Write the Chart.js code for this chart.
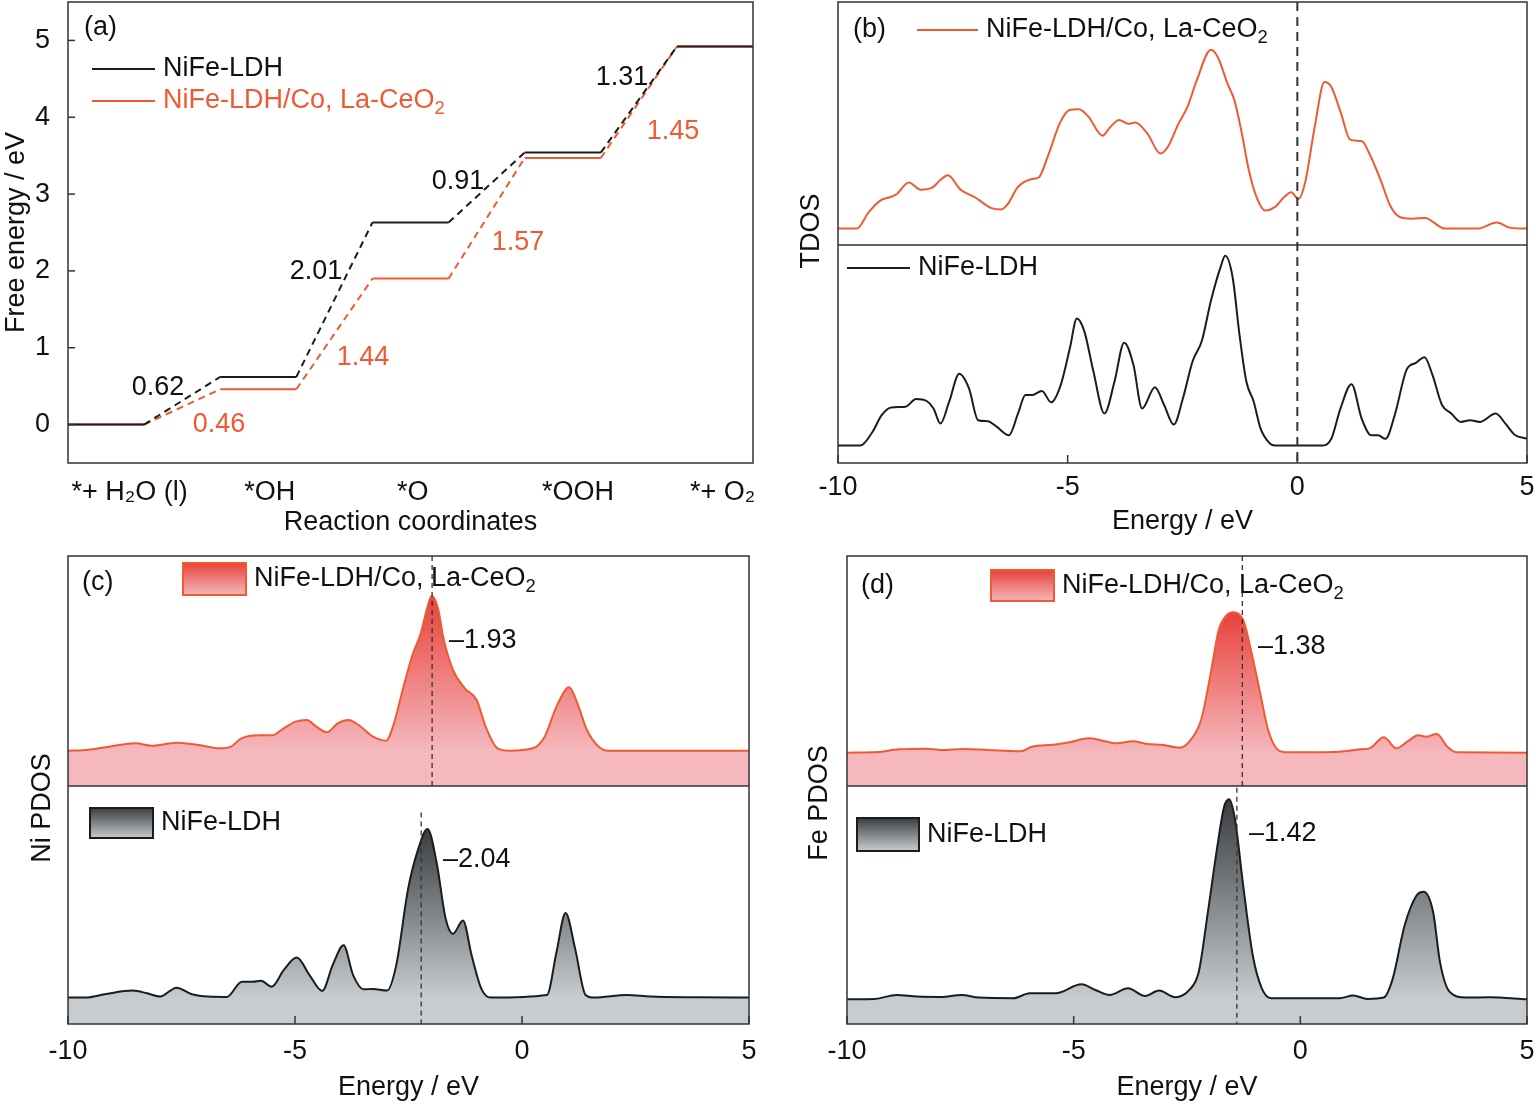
<!DOCTYPE html>
<html lang="en">
<head>
<meta charset="UTF-8">
<title>Free energy and DOS</title>
<script src="https://cdn.jsdelivr.net/npm/chart.js@4.4.0/dist/chart.umd.min.js"></script>
<style>
  body { margin: 0; background: #fff; }
  .wrap { position: relative; width: 1536px; height: 1107px; }
  canvas { position: absolute; }
</style>
</head>
<body>
<div class="wrap">
  <canvas id="chartA" width="775" height="545" style="left:0;top:0"></canvas>
  <canvas id="chartB" width="761" height="545" style="left:775px;top:0"></canvas>
  <canvas id="chartC" width="775" height="562" style="left:0;top:545px"></canvas>
  <canvas id="chartD" width="761" height="562" style="left:775px;top:545px"></canvas>
</div>
<script>
const RED = '#ef5a32';
const BLACK = '#1c1c1c';
const FONT = '"Liberation Sans", Arial, sans-serif';
const TEXT_SIZE = 27;
Chart.defaults.font.family = FONT;
Chart.defaults.font.size = TEXT_SIZE;
Chart.defaults.color = '#111';

// ---- (a) free energy steps ----
const steps = ['*+ H₂O (l)', '*OH', '*O', '*OOH', '*+ O₂'];
const stepLabelAt = [0.81, 2.65, 4.53, 6.7, 8.6];
const energyTicks = [0, 1, 2, 3, 4, 5];
const ldhLevels = [0, 0.62, 2.63, 3.54, 4.92];
const coLevels = [0, 0.46, 1.90, 3.47, 4.92];
const ldhGaps = ['0.62', '2.01', '0.91', '1.31'];
const coGaps = ['0.46', '1.44', '1.57', '1.45'];

// ---- (b) TDOS ----
const tdosCoE = [-10.00,-9.59,-9.33,-9.08,-8.87,-8.72,-8.46,-8.20,-7.94,-7.79,-7.61,-7.33,-7.02,-6.66,-6.45,-6.30,-6.09,-5.79,-5.63,-5.43,-5.17,-4.96,-4.76,-4.55,-4.24,-4.09,-3.88,-3.68,-3.53,-3.27,-2.98,-2.81,-2.60,-2.39,-2.19,-1.88,-1.73,-1.52,-1.37,-1.21,-1.06,-0.90,-0.70,-0.49,-0.29,-0.13,0.02,0.17,0.38,0.59,0.74,0.95,1.15,1.41,1.56,1.82,2.02,2.23,2.49,2.80,2.95,3.21,3.93,4.34,4.65,5.00];
const tdosCo = [0,0,0.50,0.85,0.95,1.05,1.40,1.18,1.25,1.45,1.62,1.18,0.95,0.62,0.58,0.75,1.25,1.50,1.55,2.20,3.20,3.60,3.62,3.40,2.82,3.05,3.30,3.18,3.22,2.90,2.28,2.50,3.15,3.70,4.50,5.43,5.20,4.40,3.90,2.90,1.80,1.00,0.55,0.65,0.95,1.10,0.90,1.40,3.10,4.45,4.30,3.50,2.70,2.65,2.30,1.45,0.70,0.35,0.30,0.32,0.20,0,0,0.18,0.02,0];
const tdosLdhE = [-10.00,-9.51,-9.25,-9.05,-8.84,-8.53,-8.30,-8.07,-7.92,-7.77,-7.58,-7.36,-7.15,-6.95,-6.74,-6.54,-6.28,-6.08,-5.92,-5.77,-5.56,-5.36,-5.15,-4.95,-4.80,-4.64,-4.44,-4.20,-3.98,-3.77,-3.57,-3.38,-3.10,-2.90,-2.69,-2.49,-2.28,-2.08,-1.88,-1.67,-1.57,-1.41,-1.26,-1.11,-0.95,-0.80,-0.59,-0.49,0.53,0.74,0.94,1.18,1.40,1.61,1.76,1.92,2.12,2.38,2.58,2.77,2.94,3.15,3.35,3.56,3.76,3.97,4.32,4.53,4.73,5.00];
const tdosLdh = [0,0,0.40,0.90,1.13,1.15,1.38,1.32,1.10,0.65,1.30,2.13,1.70,0.75,0.72,0.55,0.30,0.95,1.50,1.50,1.62,1.28,1.80,2.90,3.77,3.40,2.20,0.95,1.90,3.05,2.40,1.10,1.73,1.20,0.62,1.40,2.50,3.10,4.30,5.30,5.63,5.00,3.30,1.90,1.30,0.50,0.05,0,0,0.20,1.10,1.82,0.80,0.30,0.30,0.20,0.90,2.25,2.45,2.62,2.10,1.20,0.95,0.70,0.75,0.70,0.95,0.65,0.32,0.20];
const fermiLevel = 0;

// ---- (c) Ni PDOS ----
const niCoE = [-10.00,-9.61,-9.09,-8.52,-8.16,-7.59,-7.12,-6.65,-6.41,-6.19,-5.77,-5.51,-5.25,-4.99,-4.74,-4.53,-4.30,-4.06,-3.82,-3.60,-3.28,-2.99,-2.82,-2.61,-2.40,-2.23,-2.09,-1.99,-1.85,-1.73,-1.52,-1.26,-1.00,-0.80,-0.54,-0.28,0.24,0.50,0.76,1.04,1.22,1.43,1.69,1.90,5.00];
const niCo = [0,0.02,0.12,0.22,0.15,0.24,0.17,0.07,0.12,0.36,0.46,0.46,0.67,0.87,0.92,0.72,0.55,0.82,0.92,0.77,0.42,0.30,0.82,1.92,2.92,3.52,4.27,4.64,4.27,3.37,2.42,1.87,1.52,0.72,0.07,0,0.07,0.42,1.32,1.90,1.42,0.62,0.12,0,0];
const niLdhE = [-10.00,-9.61,-9.19,-8.57,-8.26,-7.97,-7.61,-7.27,-6.91,-6.50,-6.17,-5.93,-5.75,-5.51,-5.25,-4.96,-4.68,-4.40,-4.17,-3.93,-3.72,-3.49,-3.29,-2.97,-2.77,-2.51,-2.30,-2.08,-1.88,-1.68,-1.52,-1.30,-1.11,-0.90,-0.69,0.55,0.76,0.96,1.17,1.40,1.59,2.31,2.83,3.87,5.00];
const niLdh = [0,0,0.10,0.21,0.13,0.03,0.30,0.10,0.03,0.02,0.48,0.48,0.51,0.33,0.83,1.21,0.68,0.20,0.98,1.58,0.68,0.25,0.26,0.21,0.98,3.28,4.43,5.10,4.08,2.38,1.93,2.33,1.28,0.28,0,0.08,1.38,2.56,1.48,0.08,0,0.08,0.03,0.01,0];
const niCentre = [-1.98, -2.22];
const niCentreText = ['–1.93', '–2.04'];

// ---- (d) Fe PDOS ----
const feCoE = [-10.00,-9.33,-8.86,-8.24,-7.93,-7.41,-6.90,-6.17,-5.92,-5.45,-5.09,-4.67,-4.36,-4.05,-3.69,-3.38,-3.02,-2.66,-2.45,-2.19,-1.99,-1.80,-1.62,-1.50,-1.26,-1.09,-0.90,-0.71,-0.49,-0.28,0.86,1.32,1.53,1.84,2.12,2.36,2.60,2.77,3.01,3.24,3.44,5.00];
const feCo = [0,0.02,0.10,0.12,0.08,0.11,0.08,0.04,0.18,0.24,0.31,0.43,0.36,0.28,0.34,0.26,0.23,0.15,0.33,0.98,2.28,3.68,4.13,4.21,3.98,3.08,1.88,0.68,0.08,0.01,0.03,0.10,0.13,0.46,0.13,0.33,0.52,0.48,0.56,0.18,0.01,0];
const feLdhE = [-10.00,-9.38,-8.91,-8.45,-7.93,-7.47,-7.10,-6.33,-5.97,-5.40,-4.83,-4.52,-4.21,-3.80,-3.43,-3.12,-2.76,-2.45,-2.24,-2.04,-1.83,-1.68,-1.57,-1.44,-1.26,-1.05,-0.85,-0.64,0.86,1.17,1.48,1.84,2.04,2.30,2.56,2.72,2.93,3.08,3.29,3.65,4.16,5.00];
const feLdh = [0,0.01,0.13,0.08,0.07,0.13,0.05,0.03,0.18,0.18,0.45,0.28,0.13,0.33,0.10,0.26,0.06,0.28,0.83,2.63,4.63,5.83,6.05,5.43,3.43,1.33,0.33,0.03,0.03,0.11,0.01,0.05,0.63,2.23,3.13,3.25,2.63,1.13,0.23,0.05,0.06,0];
const feCentre = [-1.28, -1.40];
const feCentreText = ['–1.38', '–1.42'];

const zip = (xs, ys) => xs.map((x, i) => ({ x: x, y: ys[i] }));

// flat level segments with gaps, and the dashed links between them
function levelSegments(levels) {
  const pts = [];
  levels.forEach((e, i) => pts.push({ x: 2 * i, y: e }, { x: 2 * i + 1, y: e }, { x: 2 * i + 1.5, y: null }));
  return pts;
}
function levelLinks(levels) {
  const pts = [];
  for (let i = 0; i < levels.length - 1; i++) {
    pts.push({ x: 2 * i + 1, y: levels[i] }, { x: 2 * i + 2, y: levels[i + 1] }, { x: 2 * i + 2, y: null });
  }
  return pts;
}

// pin axis box sizes so the plot areas line up with the figure
function fixBox(s, size) {
  if (s.isHorizontal()) s.height = size; else s.width = size;
  s.paddingLeft = s.paddingRight = s.paddingTop = s.paddingBottom = 0;
}

// text with unicode subscript digits drawn as real small subscripts
const SUBS = '₀₁₂₃₄₅₆₇₈₉';
function richParts(str) {
  const parts = [];
  for (const ch of str) {
    const k = SUBS.indexOf(ch);
    const sub = k >= 0;
    const t = sub ? String(k) : ch;
    if (parts.length && parts[parts.length - 1].sub === sub) parts[parts.length - 1].t += t;
    else parts.push({ t: t, sub: sub });
  }
  return parts;
}
function drawRich(ctx, str, x, y, color, size, align) {
  const parts = richParts(str);
  ctx.textBaseline = 'middle';
  ctx.textAlign = 'left';
  let w = 0;
  parts.forEach(p => { ctx.font = (p.sub ? size * 0.68 : size) + 'px ' + FONT; w += ctx.measureText(p.t).width; });
  let cx = align === 'center' ? x - w / 2 : x;
  ctx.fillStyle = color;
  parts.forEach(p => {
    ctx.font = (p.sub ? size * 0.68 : size) + 'px ' + FONT;
    ctx.fillText(p.t, cx, p.sub ? y + size * 0.3 : y);
    cx += ctx.measureText(p.t).width;
  });
}

function gradFill(dark, light) {
  return (c) => {
    const chart = c.chart;
    const ds = chart.data.datasets[c.datasetIndex];
    if (!chart.chartArea || !ds) return light;
    const s = chart.scales[ds.yAxisID];
    const peak = Math.max(...ds.data.map(p => p.y));
    const g = chart.ctx.createLinearGradient(0, s.getPixelForValue(peak), 0, s.getPixelForValue(0));
    g.addColorStop(0, dark);
    g.addColorStop(1, light);
    return g;
  };
}

// frame, divider, inward ticks, guide lines, legends and labels
const panelPlugin = {
  id: 'panel',
  afterDatasetsDraw(chart, args, opts) {
    const ctx = chart.ctx, a = chart.chartArea;
    ctx.save();
    ctx.strokeStyle = '#333';
    ctx.lineWidth = 1.5;
    ctx.setLineDash([]);
    ctx.strokeRect(a.left, a.top, a.right - a.left, a.bottom - a.top);
    if (opts.divider) {
      const y = chart.scales[opts.divider].bottom;
      ctx.beginPath(); ctx.moveTo(a.left, y); ctx.lineTo(a.right, y); ctx.stroke();
    }
    (opts.ticks || []).forEach(id => {
      const s = chart.scales[id];
      s.ticks.forEach(t => {
        const p = s.getPixelForValue(t.value);
        ctx.beginPath();
        if (s.isHorizontal()) { ctx.moveTo(p, a.bottom); ctx.lineTo(p, a.bottom - 8); }
        else { ctx.moveTo(a.left, p); ctx.lineTo(a.left + 7, p); }
        ctx.stroke();
      });
    });
    (opts.vlines || []).forEach(v => {
      const px = chart.scales.x.getPixelForValue(v.x);
      let y0 = a.top, y1 = a.bottom;
      if (v.scale) { const s = chart.scales[v.scale]; y0 = s.getPixelForValue(v.from); y1 = s.getPixelForValue(v.to); }
      ctx.strokeStyle = '#333';
      ctx.lineWidth = v.width;
      ctx.setLineDash(v.dash);
      ctx.beginPath(); ctx.moveTo(px, y0); ctx.lineTo(px, y1); ctx.stroke();
    });
    ctx.setLineDash([]);
    (opts.legend || []).forEach(l => {
      const ds = chart.data.datasets[l.ds];
      if (l.box) {
        const g = ctx.createLinearGradient(0, l.y, 0, l.y + l.h);
        g.addColorStop(0, l.box[0]); g.addColorStop(1, l.box[1]);
        ctx.fillStyle = g;
        ctx.fillRect(l.x, l.y, l.w, l.h);
        ctx.strokeStyle = ds.borderColor; ctx.lineWidth = 2;
        ctx.strokeRect(l.x, l.y, l.w, l.h);
        drawRich(ctx, ds.label, l.x + l.w + 8, l.y + l.h / 2, '#111', TEXT_SIZE);
      } else {
        ctx.strokeStyle = ds.borderColor; ctx.lineWidth = 2;
        ctx.beginPath(); ctx.moveTo(l.x, l.y); ctx.lineTo(l.x + l.w, l.y); ctx.stroke();
        drawRich(ctx, ds.label, l.x + l.w + 8, l.y, l.color || '#111', TEXT_SIZE);
      }
    });
    (opts.texts || []).forEach(t => {
      if (t.rotate) {
        ctx.save(); ctx.translate(t.x, t.y); ctx.rotate(-Math.PI / 2);
        drawRich(ctx, t.text, 0, 0, t.color || '#111', TEXT_SIZE, 'center');
        ctx.restore();
      } else {
        drawRich(ctx, t.text, t.x, t.y, t.color || '#111', TEXT_SIZE, t.align);
      }
    });
    ctx.restore();
  }
};

const common = {
  responsive: false,
  animation: false,
  events: [],
  elements: { point: { radius: 0 }, line: { borderWidth: 2 } }
};

function energyAxis(h, tickPad, titlePad) {
  return {
    type: 'linear', min: -10, max: 5,
    ticks: { stepSize: 5, padding: tickPad, color: '#111' },
    grid: { display: false }, border: { display: false },
    title: { display: true, text: 'Energy / eV', color: '#111', padding: { top: 0, bottom: titlePad } },
    afterFit: s => fixBox(s, h)
  };
}
function dosAxis(min, max, weight, w) {
  return {
    type: 'linear', position: 'left', stack: 'dos', stackWeight: weight, min: min, max: max,
    ticks: { display: false }, grid: { display: false }, border: { display: false },
    afterFit: s => fixBox(s, w)
  };
}

// (a)
new Chart(document.getElementById('chartA'), {
  type: 'line',
  data: {
    datasets: [
      { label: 'NiFe-LDH', data: levelSegments(ldhLevels), borderColor: BLACK },
      { label: 'NiFe-LDH steps', data: levelLinks(ldhLevels), borderColor: BLACK, borderDash: [7, 5] },
      { label: 'NiFe-LDH/Co, La-CeO₂', data: levelSegments(coLevels), borderColor: RED },
      { label: 'NiFe-LDH/Co, La-CeO₂ steps', data: levelLinks(coLevels), borderColor: RED, borderDash: [7, 5] }
    ]
  },
  options: Object.assign({}, common, {
    layout: { padding: { left: 0, top: 2, right: 22, bottom: 0 } },
    scales: {
      x: {
        type: 'linear', min: 0, max: 9,
        afterBuildTicks: s => { s.ticks = stepLabelAt.map(v => ({ value: v })); },
        ticks: { callback: (v, i) => steps[i], padding: 5, maxRotation: 0, autoSkip: false, color: '#111' },
        grid: { display: false }, border: { display: false },
        title: { display: true, text: 'Reaction coordinates', color: '#111', padding: { top: 0, bottom: 6 } },
        afterFit: s => fixBox(s, 82)
      },
      y: {
        min: -0.5, max: 5.5,
        afterBuildTicks: s => { s.ticks = energyTicks.map(v => ({ value: v })); },
        ticks: { padding: 10, color: '#111' },
        grid: { display: false }, border: { display: false },
        title: { display: true, text: 'Free energy / eV', color: '#111', padding: 0 },
        afterFit: s => fixBox(s, 68)
      }
    },
    plugins: {
      legend: { display: false }, tooltip: { enabled: false },
      panel: {
        ticks: ['y'],
        legend: [
          { ds: 0, x: 92, y: 69, w: 63 },
          { ds: 2, x: 92, y: 101, w: 63, color: RED }
        ],
        texts: [
          { text: '(a)', x: 84, y: 28 },
          { text: ldhGaps[0], x: 158, y: 388, align: 'center' },
          { text: ldhGaps[1], x: 316, y: 272, align: 'center' },
          { text: ldhGaps[2], x: 458, y: 182, align: 'center' },
          { text: ldhGaps[3], x: 622, y: 78, align: 'center' },
          { text: coGaps[0], x: 219, y: 425, align: 'center', color: RED },
          { text: coGaps[1], x: 363, y: 358, align: 'center', color: RED },
          { text: coGaps[2], x: 518, y: 243, align: 'center', color: RED },
          { text: coGaps[3], x: 673, y: 132, align: 'center', color: RED }
        ]
      }
    }
  }),
  plugins: [panelPlugin]
});

// (b) -- the stacked axis listed first sits at the bottom
new Chart(document.getElementById('chartB'), {
  type: 'line',
  data: {
    datasets: [
      { label: 'NiFe-LDH/Co, La-CeO₂', data: zip(tdosCoE, tdosCo), yAxisID: 'yTop', borderColor: RED, cubicInterpolationMode: 'monotone' },
      { label: 'NiFe-LDH', data: zip(tdosLdhE, tdosLdh), yAxisID: 'yBot', borderColor: BLACK, cubicInterpolationMode: 'monotone' }
    ]
  },
  options: Object.assign({}, common, {
    layout: { padding: { left: 0, top: 2, right: 9, bottom: 0 } },
    scales: {
      x: energyAxis(82, 0, 7),
      yBot: dosAxis(-0.52, 5.95, 218, 63),
      yTop: dosAxis(-0.5, 6.88, 243, 63)
    },
    plugins: {
      legend: { display: false }, tooltip: { enabled: false },
      panel: {
        divider: 'yTop',
        ticks: ['x'],
        vlines: [{ x: fermiLevel, width: 2, dash: [9, 6] }],
        legend: [
          { ds: 0, x: 142, y: 30, w: 61 },
          { ds: 1, x: 72, y: 268, w: 63 }
        ],
        texts: [
          { text: '(b)', x: 78, y: 30 },
          { text: 'TDOS', x: 37, y: 231, rotate: true }
        ]
      }
    }
  }),
  plugins: [panelPlugin]
});

// (c) and (d) share a layout
function pdosChart(id, co, ldh, ranges, yWidth, padRight, centres, centreText, cfg) {
  return new Chart(document.getElementById(id), {
    type: 'line',
    data: {
      datasets: [
        { label: 'NiFe-LDH/Co, La-CeO₂', data: co, yAxisID: 'yTop', borderColor: RED, fill: 'start',
          backgroundColor: gradFill('#e8423a', '#f5b8bd'), cubicInterpolationMode: 'monotone' },
        { label: 'NiFe-LDH', data: ldh, yAxisID: 'yBot', borderColor: BLACK, fill: 'start',
          backgroundColor: gradFill('#3a3d40', '#c6ccd0'), cubicInterpolationMode: 'monotone' }
      ]
    },
    options: Object.assign({}, common, {
      layout: { padding: { left: 0, top: 11, right: padRight, bottom: 0 } },
      scales: {
        x: energyAxis(83, 3, 3),
        yBot: dosAxis(ranges[2], ranges[3], 238, yWidth),
        yTop: dosAxis(ranges[0], ranges[1], 230, yWidth)
      },
      plugins: {
        legend: { display: false }, tooltip: { enabled: false },
        panel: {
          divider: 'yTop',
          ticks: ['x'],
          vlines: [
            { x: centres[0], scale: 'yTop', from: ranges[1], to: ranges[0], width: 1.3, dash: [5, 4] },
            { x: centres[1], scale: 'yBot', from: cfg.botFrom, to: ranges[2], width: 1.3, dash: [5, 4] }
          ],
          legend: cfg.legend,
          texts: [
            { text: cfg.panel, x: cfg.panelX, y: cfg.panelY },
            { text: cfg.ytitle, x: cfg.ytitleX, y: cfg.ytitleY, rotate: true },
            { text: centreText[0], x: cfg.t1[0], y: cfg.t1[1] },
            { text: centreText[1], x: cfg.t2[0], y: cfg.t2[1] }
          ]
        }
      }
    }),
    plugins: [panelPlugin]
  });
}

pdosChart('chartC', zip(niCoE, niCo), zip(niLdhE, niLdh), [-1.06, 5.84, -0.80, 6.40], 68, 26, niCentre, niCentreText, {
  botFrom: 5.6,
  legend: [
    { ds: 0, x: 183, y: 18, w: 63, h: 32, box: ['#e8423a', '#f5b8bd'] },
    { ds: 1, x: 90, y: 263, w: 63, h: 30, box: ['#3a3d40', '#c6ccd0'] }
  ],
  panel: '(c)', panelX: 82, panelY: 38,
  ytitle: 'Ni PDOS', ytitleX: 43, ytitleY: 263,
  t1: [449, 96], t2: [443, 315]
});

pdosChart('chartD', zip(feCoE, feCo), zip(feLdhE, feLdh), [-1.00, 5.90, -0.75, 6.45], 72, 9, feCentre, feCentreText, {
  botFrom: 6.4,
  legend: [
    { ds: 0, x: 216, y: 25, w: 63, h: 31, box: ['#e8423a', '#f5b8bd'] },
    { ds: 1, x: 82, y: 273, w: 62, h: 33, box: ['#3a3d40', '#c6ccd0'] }
  ],
  panel: '(d)', panelX: 86, panelY: 41,
  ytitle: 'Fe PDOS', ytitleX: 45, ytitleY: 258,
  t1: [483, 102], t2: [474, 289]
});
</script>
</body>
</html>
